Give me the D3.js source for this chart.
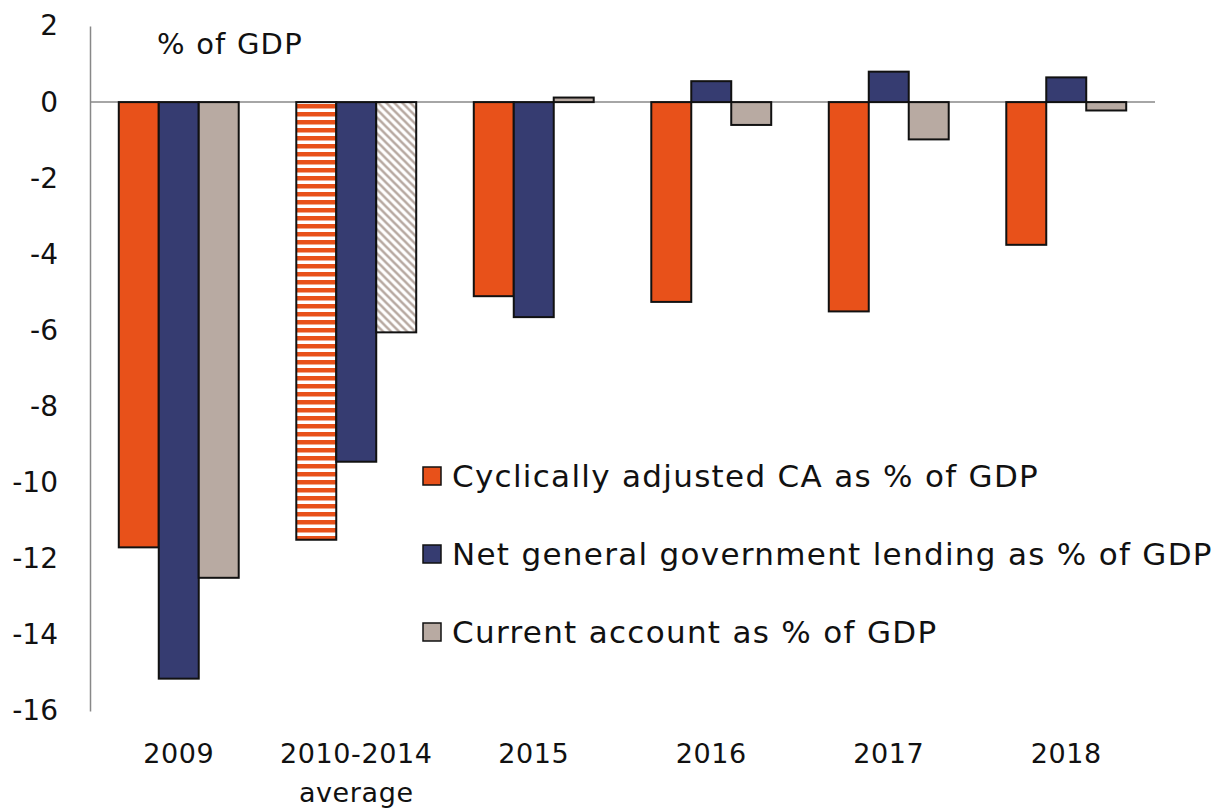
<!DOCTYPE html>
<html>
<head>
<meta charset="utf-8">
<script src="https://cdn.jsdelivr.net/npm/d3@7"></script>
<style>
  body { margin: 0; background: #fff; }
  svg text { font-family: "DejaVu Sans", sans-serif; fill: #111; }
</style>
</head>
<body>
<div id="container"></div>
<script>
var width = 1216,
    height = 809;

// data
var categories = ["2009", "2010-2014|average", "2015", "2016", "2017", "2018"];
var seriesNames = ["Cyclically adjusted CA as % of GDP",
                   "Net general government lending as % of GDP",
                   "Current account as % of GDP"];
var cyclicalCA = [-11.7, -11.5, -5.1, -5.25, -5.5, -3.75];
var netLending = [-15.15, -9.45, -5.65, 0.55, 0.8, 0.65];
var currentAcc = [-12.5, -6.05, 0.12, -0.6, -0.98, -0.22];
var yTicks = [2, 0, -2, -4, -6, -8, -10, -12, -14, -16];

var colors = ["#e8511a", "#363c71", "#b8aaa2"];
var series = [cyclicalCA, netLending, currentAcc];

var svg = d3.select("#container").append("svg")
    .attr("width", width)
    .attr("height", height);

var defs = svg.append("defs");
// horizontal stripes for the 2010-2014 average of the orange series
var stripes = defs.append("pattern")
    .attr("id", "stripes")
    .attr("patternUnits", "userSpaceOnUse")
    .attr("width", 8).attr("height", 8);
stripes.append("rect").attr("width", 8).attr("height", 8).attr("fill", "#fff");
stripes.append("rect").attr("width", 8).attr("height", 4.5).attr("fill", colors[0]);

// diagonal hatch for grey series
var hatch = defs.append("pattern")
    .attr("id", "hatch")
    .attr("patternUnits", "userSpaceOnUse")
    .attr("width", 8).attr("height", 8);
hatch.append("rect").attr("width", 8).attr("height", 8).attr("fill", "#fff");
hatch.append("path")
    .attr("d", "M-1,-1 L9,9 M-1,7 L1,9 M7,-1 L9,1")
    .attr("stroke", colors[2]).attr("stroke-width", 2.6);

var x = d3.scaleBand()
    .domain(categories)
    .range([90, 1155]);

var inner = d3.scaleBand()
    .domain([0, 1, 2])
    .range([0, x.bandwidth()])
    .paddingOuter(0.72)
    .paddingInner(0);

var y = d3.scaleLinear()
    .domain([-16, 2])
    .range([711, 26]);

// zero line
svg.append("line")
    .attr("x1", 90).attr("x2", 1155)
    .attr("y1", y(0)).attr("y2", y(0))
    .attr("stroke", "#888").attr("stroke-width", 1.5);

// y axis
var yAxis = svg.append("g")
    .attr("transform", "translate(90,0)")
    .call(d3.axisLeft(y).tickValues(yTicks).tickSize(0).tickPadding(32).tickFormat(d => String(d)));
yAxis.select(".domain").attr("stroke", "#888").attr("stroke-width", 1.5);
yAxis.selectAll("text")
    .style("font-size", "28px")
    .style("font-family", "DejaVu Sans, sans-serif")
    .attr("fill", "#111");

// bars
var groups = svg.selectAll("g.cat")
    .data(categories)
    .enter().append("g")
    .attr("class", "cat")
    .attr("transform", d => "translate(" + x(d) + ",0)");

groups.each(function (cat, ci) {
    var g = d3.select(this);
    series.forEach(function (vals, si) {
        var v = vals[ci];
        var fill = colors[si];
        if (ci === 1 && si === 0) fill = "url(#stripes)";
        if (ci === 1 && si === 2) fill = "url(#hatch)";
        g.append("rect")
            .attr("x", inner(si))
            .attr("width", inner.bandwidth())
            .attr("y", y(Math.max(0, v)))
            .attr("height", Math.abs(y(v) - y(0)))
            .attr("fill", fill)
            .attr("stroke", "#111")
            .attr("stroke-width", 2);
    });
});

// category labels
var xl = svg.append("g");
categories.forEach(function (c) {
    var lines = c.split("|");
    var t = xl.append("text")
        .attr("x", x(c) + x.bandwidth() / 2)
        .attr("y", 763)
        .attr("text-anchor", "middle")
        .style("font-size", "27px")
        .style("letter-spacing", "0.6px");
    lines.forEach(function (ln, i) {
        t.append("tspan")
            .attr("x", x(c) + x.bandwidth() / 2)
            .attr("dy", i === 0 ? 0 : 39)
            .text(ln);
    });
});

// unit title
svg.append("text")
    .attr("x", 157).attr("y", 54)
    .style("font-size", "29px")
    .style("letter-spacing", "1.2px")
    .text("% of GDP");

// legend
var legend = svg.append("g").attr("transform", "translate(423,0)");
var legY = [476, 554, 632];
seriesNames.forEach(function (name, i) {
    legend.append("rect")
        .attr("x", 0).attr("y", legY[i] - 9)
        .attr("width", 18).attr("height", 18)
        .attr("fill", colors[i])
        .attr("stroke", "#111").attr("stroke-width", 1.5);
    legend.append("text")
        .attr("x", 29).attr("y", legY[i] + 11)
        .style("font-size", "31px")
        .style("letter-spacing", "1.3px")
        .text(name);
});
</script>
</body>
</html>
